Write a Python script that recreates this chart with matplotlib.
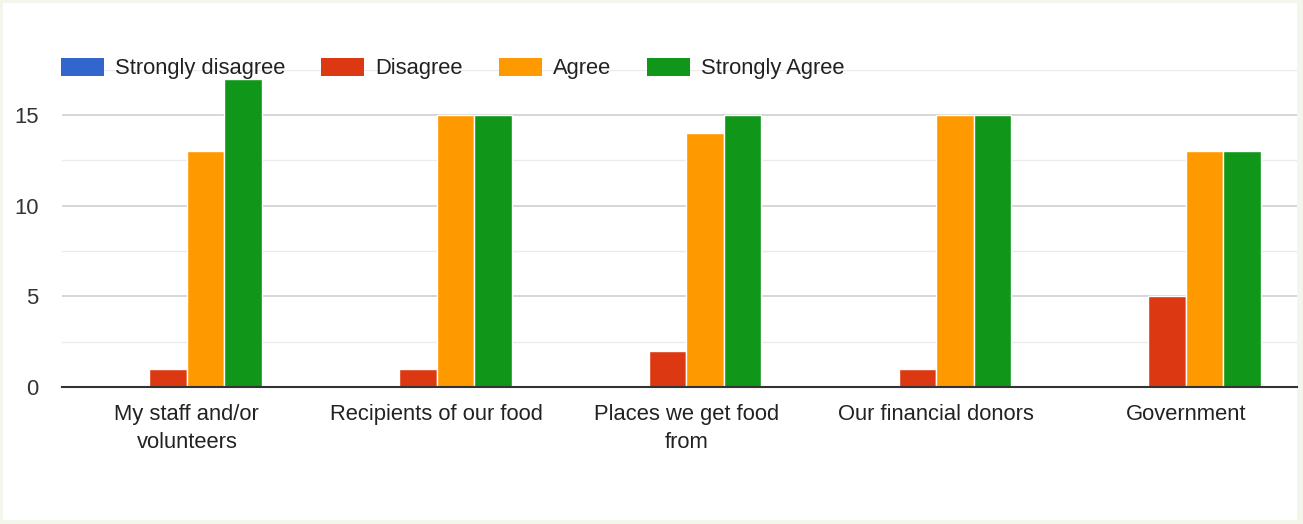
import matplotlib
matplotlib.use("Agg")
import matplotlib.pyplot as plt
from matplotlib.patches import Rectangle, Patch
import numpy as np

categories = ["My staff and/or\nvolunteers", "Recipients of our food",
              "Places we get food\nfrom", "Our financial donors", "Government"]
series_names = ["Strongly disagree", "Disagree", "Agree", "Strongly Agree"]
strongly_disagree = [0, 0, 0, 0, 0]
disagree = [1, 1, 2, 1, 5]
agree = [13, 15, 14, 15, 13]
strongly_agree = [17, 15, 15, 15, 13]
colors = ["#3366cc", "#dc3912", "#ff9900", "#109618"]
y_ticks = [0, 5, 10, 15]

W, H = 1303, 524
FS = 15.8
fig = plt.figure(figsize=(W / 100, H / 100), dpi=100)
fig.patch.set_facecolor("#f3f6ea")
fig.patches.append(Rectangle((3 / W, 4 / H), 1294 / W, 517 / H,
                             transform=fig.transFigure, facecolor="white",
                             edgecolor="none", zorder=-10))

px_per_unit = (387 - 115) / 15.0
top_val = 17.5
ax_left, ax_right = 62, 1297
ax_bottom = 387
ax_top = 387 - top_val * px_per_unit
ax = fig.add_axes([ax_left / W, 1 - ax_bottom / H, (ax_right - ax_left) / W,
                   (ax_bottom - ax_top) / H])
ax.set_zorder(2)
ax.set_facecolor("none")

group_px = 249.75
x = np.arange(len(categories))
bw = 37.5 / group_px
all_series = [strongly_disagree, disagree, agree, strongly_agree]
for i, (vals, c) in enumerate(zip(all_series, colors)):
    offs = (i - 1.5) * bw
    ax.bar(x + offs, vals, width=bw, color=c, edgecolor="white",
           linewidth=1.0, zorder=3)

ax.set_xlim(-0.5, -0.5 + (ax_right - ax_left) / group_px)
ax.set_ylim(0, top_val)
ax.set_yticks(y_ticks)
ax.set_yticks([2.5, 7.5, 12.5, 17.5], minor=True)
ax.grid(axis="y", which="major", color="#d0d0d0", linewidth=1.2, zorder=1)
ax.grid(axis="y", which="minor", color="#ebebeb", linewidth=1.0, zorder=1)
ax.tick_params(axis="both", which="both", length=0)
ax.tick_params(axis="y", labelsize=FS, labelcolor="#333333", pad=17)
ax.set_xticks(x)
ax.set_xticklabels(categories, fontsize=FS, color="#222222",
                   linespacing=1.45)
ax.tick_params(axis="x", pad=12)
for lab in ax.get_yticklabels():
    lab.set_fontfamily("Liberation Sans")
for lab in ax.get_xticklabels():
    lab.set_fontfamily("Liberation Sans")
for s in ["left", "right", "top"]:
    ax.spines[s].set_visible(False)
ax.spines["bottom"].set_color("#333333")
ax.spines["bottom"].set_linewidth(1.5)
ax.spines["bottom"].set_zorder(4)

handles = [Patch(facecolor=c, edgecolor="none") for c in colors]
leg = fig.legend(handles, series_names, loc="center left",
                 bbox_to_anchor=(61 / W, 1 - 68.5 / H), ncol=4, frameon=False,
                 prop={"family": "Liberation Sans", "size": FS},
                 handlelength=1.95, handleheight=0.92, handletextpad=0.5,
                 columnspacing=1.65, borderaxespad=0, borderpad=0)
leg.set_zorder(5)
for t in leg.get_texts():
    t.set_color("#222222")

fig.savefig("out.png", dpi=100, facecolor=fig.get_facecolor())
